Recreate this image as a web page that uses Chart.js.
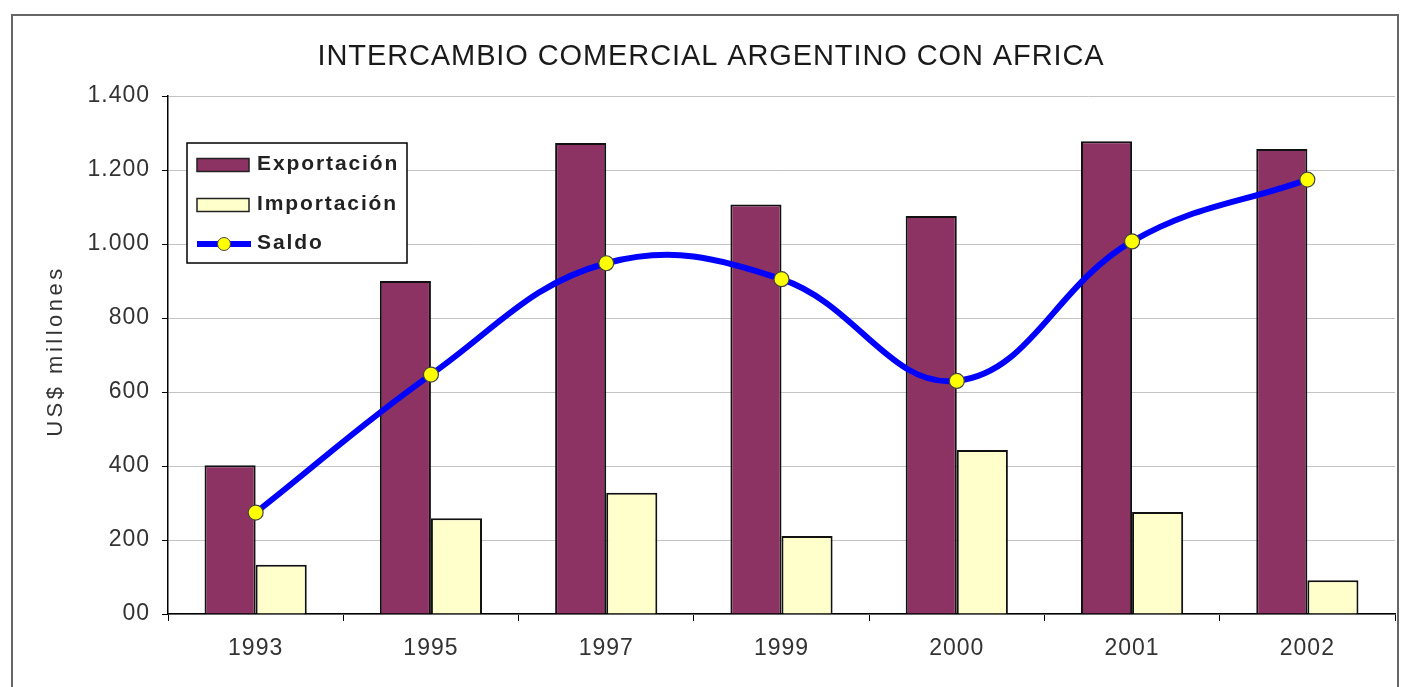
<!DOCTYPE html>
<html><head><meta charset="utf-8">
<script src="https://cdn.jsdelivr.net/npm/chart.js@4/dist/chart.umd.min.js"></script>
<style>html,body{margin:0;padding:0;background:#fff;} canvas{display:block;}</style>
</head><body>
<canvas id="c" width="1404" height="687"></canvas>
<script>
const chartTitle = 'INTERCAMBIO COMERCIAL ARGENTINO CON AFRICA';
const yAxisTitle = 'US$ millones';
const years = ['1993', '1995', '1997', '1999', '2000', '2001', '2002'];
const exportacion = [402, 900, 1273, 1107, 1076, 1278, 1257];
const importacion = [133, 259, 328, 211, 443, 276, 91];
const saldo = [274, 647, 948, 905, 630, 1007, 1174];
const yTicks = [0, 200, 400, 600, 800, 1000, 1200, 1400];
const yTickLabels = ['00', '200', '400', '600', '800', '1.000', '1.200', '1.400'];

const FONT = "'Liberation Sans', Arial, sans-serif";
Chart.defaults.font.family = FONT;

const decor = {
  id: 'decor',
  beforeUpdate(chart) { chart.ctx.letterSpacing = '1px'; },
  beforeDraw(chart) {
    const ctx = chart.ctx;
    ctx.save();
    ctx.fillStyle = '#fff';
    ctx.fillRect(0, 0, chart.width, chart.height);
    ctx.strokeStyle = '#666';
    ctx.lineWidth = 2;
    ctx.strokeRect(12, 15, 1386, 700);
    ctx.restore();
    ctx.letterSpacing = '1px';
  },
  afterDraw(chart) {
    const ctx = chart.ctx;
    ctx.save();
    // title
    ctx.letterSpacing = '0.9px';
    ctx.fillStyle = '#1a1a1a';
    ctx.font = '29px ' + FONT;
    ctx.textAlign = 'center';
    ctx.textBaseline = 'middle';
    ctx.fillText(chartTitle, 711, 57);
    // y axis title
    ctx.save();
    ctx.translate(56, 351);
    ctx.rotate(-Math.PI / 2);
    ctx.letterSpacing = '3.5px';
    ctx.fillStyle = '#333';
    ctx.font = '22px ' + FONT;
    ctx.fillText(yAxisTitle, 0, 0);
    ctx.restore();
    // legend
    const lx = 187, ly = 143, lw = 220, lh = 120;
    ctx.fillStyle = '#fff';
    ctx.fillRect(lx, ly, lw, lh);
    ctx.strokeStyle = '#000';
    ctx.lineWidth = 1.5;
    ctx.strokeRect(lx, ly, lw, lh);
    const rows = [165, 205, 244];
    chart.data.datasets.forEach((ds, i) => {
      const y = rows[i];
      if (ds.type === 'line') {
        ctx.strokeStyle = ds.borderColor;
        ctx.lineWidth = 6;
        ctx.beginPath(); ctx.moveTo(197, y); ctx.lineTo(251, y); ctx.stroke();
        ctx.beginPath(); ctx.arc(224, y, 6.5, 0, Math.PI * 2);
        ctx.fillStyle = ds.pointBackgroundColor; ctx.fill();
        ctx.lineWidth = 1; ctx.strokeStyle = ds.pointBorderColor; ctx.stroke();
      } else {
        ctx.fillStyle = ds.backgroundColor;
        ctx.fillRect(197, y - 6.5, 52, 13);
        ctx.strokeStyle = '#222'; ctx.lineWidth = 1.5;
        ctx.strokeRect(197, y - 6.5, 52, 13);
      }
      ctx.fillStyle = '#222';
      ctx.font = 'bold 21px ' + FONT;
      ctx.letterSpacing = '1.9px';
      ctx.textAlign = 'left';
      ctx.textBaseline = 'middle';
      ctx.fillText(ds.label, 257, y - 1);
    });
    ctx.restore();
  }
};

new Chart(document.getElementById('c'), {
  type: 'bar',
  data: {
    labels: years,
    datasets: [
      { type: 'bar', label: 'Exportación', data: exportacion, backgroundColor: '#8d3363', borderColor: '#111', borderWidth: 2, order: 2 },
      { type: 'bar', label: 'Importación', data: importacion, backgroundColor: '#ffffcc', borderColor: '#111', borderWidth: 2, order: 2 },
      { type: 'line', label: 'Saldo', data: saldo, borderColor: '#0000ff', borderWidth: 6, tension: 0.4,
        pointRadius: 7.5, pointBackgroundColor: '#ffff00', pointBorderColor: '#444', pointBorderWidth: 1.2, order: 1 }
    ]
  },
  options: {
    responsive: false,
    animation: false,
    datasets: { bar: { categoryPercentage: 0.583, barPercentage: 1.0 } },
    layout: { padding: { top: 96, right: 9, bottom: 0, left: 0 } },
    plugins: { legend: { display: false }, title: { display: false }, tooltip: { enabled: false } },
    scales: {
      x: {
        grid: { display: true, drawOnChartArea: false, drawTicks: true, tickLength: 7, tickColor: '#000', offset: true },
        border: { color: '#000', width: 1.5 },
        ticks: { font: { size: 23 }, color: '#333', padding: 14 },
        afterFit(s) { s.height = 73; }
      },
      y: {
        min: 0, max: 1400,
        afterBuildTicks(s) { s.ticks = yTicks.map(v => ({ value: v })); },
        grid: { color: '#c4c4c4', tickColor: '#000', tickLength: 6 },
        border: { color: '#000', width: 1.5 },
        ticks: { font: { size: 23 }, color: '#333', padding: 12,
          callback: (v) => yTickLabels[yTicks.indexOf(v)] },
        afterFit(s) { s.width = 168; }
      }
    }
  },
  plugins: [decor]
});
</script>
</body></html>
